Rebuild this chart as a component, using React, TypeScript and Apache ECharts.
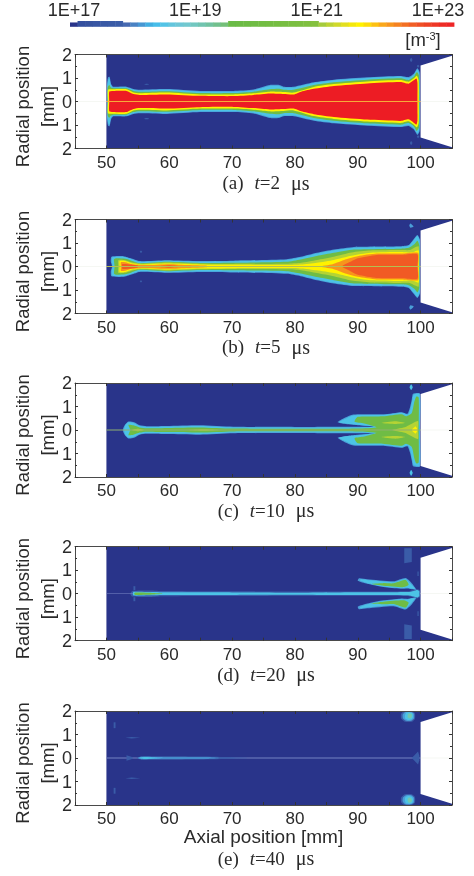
import React, { useEffect, useRef } from "react";
import * as echarts from "echarts";

type Pt = [number, number];

const CAPTION_TIMES = ["2", "5", "10", "20", "40"];
const CAPTION_LETTERS = ["a", "b", "c", "d", "e"];
const COLORBAR_LABEL_EXPONENTS = [17, 19, 21, 23];

const COLORBAR_CELLS = [
  "#29348a", "#34509f", "#36539f", "#3856a3", "#3959a5", "#3a5ba6", "#3b5da8", "#4669b1", "#4a82c3", "#4797d3",
  "#41aee1", "#47bde9", "#53c3e6", "#63c5dd", "#6dc6d6", "#72c8cf", "#72c7c0", "#71c4b0", "#70c2a0", "#71c08d",
  "#73bf78", "#6abb46", "#6cbb45", "#6ebc44", "#70bc44", "#72bd43", "#74bd43", "#76be42", "#78be42", "#7abf41",
  "#7cbf41", "#80c040", "#84c13f", "#a5cb3c", "#bcd233", "#d0d92a", "#e3df1f", "#f4e80c", "#fff200", "#fddc0a",
  "#fdc112", "#faa81b", "#f7951e", "#f58220", "#f36f22", "#f15e25", "#ef4f25", "#ee4224", "#ee3625", "#ee2c25",
  "#ee2526",
];
const COLORBAR_RAISED = [1, 2, 3, 4, 5, 6, 21, 22, 23, 24, 25, 26, 27, 28, 29, 30, 31, 32];

const NAVY = "#29348a";
const LEVEL_COLORS = [
  "#3a5ca8", "#4a9ed8", "#4cc3e6", "#72c8b0", "#6fbc45", "#b5d334", "#fff200", "#f7941d", "#f15a24", "#ed1c24",
];
const LINE_PALE = "#eef0ea", LINE_ORANGE = "#f7a93a", LINE_OLIVE = "#b5bf50", LINE_SAGE = "#8fb070", LINE_BLUE = "#7482c2";

const BACKGROUND: Pt[] = [[50, 0], [50, 2], [105, 2], [105, 0]];
const NOZZLE: Pt[] = [[100, 0], [100, 1.53], [105, 1.95], [105, 0]];

const axisLineLeft: Pt[] = [[45, 0], [45, 0.012], [50, 0.012], [50, 0]];
const axisLineRight: Pt[] = [[100, 0], [100, 0.012], [105, 0.012], [105, 0]];
const coreLine: Pt[] = [[50, 0], [50, 0.016], [100, 0.016], [100, 0]];
const coreLineD: Pt[] = [[50, 0], [50, 0.012], [54.2, 0.012], [54.2, 0]];

// (a) t = 2 us
const A_L1: Pt[] = [[50.1, 0], [50.1, 0.7], [50.25, 1.02], [50.5, 1.05], [50.75, 0.75], [51.1, 0.63], [53.2, 0.63], [54.3, 0.53], [55.3, 0.5], [59.6, 0.53], [64.9, 0.45], [70.2, 0.45], [73.4, 0.51], [76, 0.7], [77.5, 0.7], [78.2, 0.63], [79.8, 0.63], [83, 0.82], [86.2, 0.93], [91.5, 1.03], [96.8, 1.09], [98.1, 1.04], [98.9, 1.18], [99.5, 1.42], [99.85, 1.25], [99.9, 0]];
const A_L2: Pt[] = [[50.15, 0], [50.15, 0.65], [50.3, 0.95], [50.5, 0.98], [50.7, 0.7], [51, 0.6], [53.2, 0.6], [54.3, 0.5], [55.3, 0.47], [59.6, 0.5], [64.9, 0.42], [70.2, 0.42], [73.4, 0.48], [76, 0.66], [77.5, 0.66], [78.2, 0.6], [79.8, 0.6], [83, 0.79], [86.2, 0.9], [91.5, 1], [96.8, 1.06], [98.1, 1], [98.9, 1.13], [99.5, 1.36], [99.8, 1.2], [99.85, 0]];
const A_L4: Pt[] = [[50.2, 0], [50.2, 0.6], [50.45, 0.7], [50.7, 0.6], [51.2, 0.56], [53.2, 0.56], [54.3, 0.45], [55.3, 0.41], [59.6, 0.44], [64.9, 0.36], [70.2, 0.36], [73.4, 0.42], [76, 0.52], [77.5, 0.54], [78.2, 0.5], [79.8, 0.5], [83, 0.7], [86.2, 0.82], [91.5, 0.93], [96.8, 0.99], [98.1, 0.92], [98.9, 1.05], [99.4, 1.25], [99.75, 1.1], [99.8, 0]];
const A_L6: Pt[] = [[50.25, 0], [50.25, 0.5], [51, 0.52], [53.2, 0.52], [54.3, 0.38], [55.3, 0.35], [59.6, 0.38], [64.9, 0.3], [70.2, 0.3], [73.4, 0.35], [76, 0.42], [78.2, 0.4], [79.8, 0.38], [83, 0.62], [86.2, 0.74], [91.5, 0.85], [96.8, 0.91], [98.1, 0.84], [98.9, 0.98], [99.4, 1.1], [99.7, 0.9], [99.72, 0]];
const A_L9: Pt[] = [[50.45, 0], [50.45, 0.42], [51, 0.45], [53.2, 0.45], [54.3, 0.32], [55.3, 0.28], [59.6, 0.3], [64.9, 0.24], [70.2, 0.23], [73.4, 0.28], [76, 0.34], [78.2, 0.32], [79.8, 0.3], [81, 0.42], [83, 0.54], [86.2, 0.66], [91.5, 0.77], [96.8, 0.83], [98.1, 0.76], [98.9, 0.9], [99.35, 0.98], [99.5, 0.8], [99.5, 0]];
const A_DOT1: Pt[] = [[98.3, 1.77], [98.5, 1.86], [98.7, 1.77], [98.5, 1.68]];
const A_DOT2: Pt[] = [[99.4, 1.5], [99.6, 1.56], [99.8, 1.5], [99.6, 1.44]];
const A_DOT3: Pt[] = [[56, 0.73], [56.4, 0.76], [56.8, 0.73], [56.4, 0.7]];

// (b) t = 5 us
const B_L1: Pt[] = [[50.9, 0], [50.7, 0.2], [50.8, 0.42], [52.7, 0.44], [54, 0.34], [55.3, 0.23], [59.6, 0.27], [64.9, 0.23], [70.2, 0.25], [78.7, 0.31], [80.9, 0.41], [83.5, 0.58], [86.2, 0.72], [89.4, 0.83], [96.8, 0.86], [98.1, 0.91], [98.9, 1.16], [99.5, 1.34], [99.9, 1.14], [99.9, 0]];
const B_L2: Pt[] = [[51, 0], [50.85, 0.2], [50.95, 0.39], [52.7, 0.41], [54, 0.31], [55.3, 0.2], [59.6, 0.24], [64.9, 0.2], [70.2, 0.22], [78.7, 0.28], [80.9, 0.38], [83.5, 0.55], [86.2, 0.69], [89.4, 0.8], [96.8, 0.83], [98.1, 0.88], [98.9, 1.12], [99.5, 1.3], [99.85, 1.1], [99.85, 0]];
const B_L4: Pt[] = [[51.3, 0], [51.2, 0.3], [51.5, 0.35], [53, 0.33], [54, 0.25], [55.3, 0.14], [59.6, 0.2], [64.9, 0.15], [70.2, 0.16], [78.7, 0.2], [80.9, 0.3], [83.5, 0.45], [86.2, 0.58], [89.4, 0.72], [96.8, 0.76], [98.1, 0.8], [99, 0.95], [99.5, 1.1], [99.8, 0.9], [99.8, 0]];
const B_L5: Pt[] = [[51.9, 0], [51.9, 0.27], [53, 0.27], [54, 0.18], [55.5, 0.12], [59.6, 0.17], [64.9, 0.12], [70.2, 0.11], [78.7, 0.12], [81, 0.16], [83.5, 0.28], [86.2, 0.42], [89, 0.6], [92, 0.68], [96.8, 0.7], [98.3, 0.7], [99, 0.8], [99.7, 0.85], [99.75, 0]];
const B_L6: Pt[] = [[52.1, 0], [52.1, 0.23], [53, 0.23], [54, 0.14], [55.5, 0.09], [59.6, 0.13], [64.9, 0.09], [70.2, 0.07], [78.7, 0.06], [81, 0.08], [83.5, 0.16], [86.2, 0.28], [89, 0.46], [92, 0.59], [96.8, 0.62], [98.3, 0.6], [99, 0.63], [99.7, 0.68], [99.72, 0]];
const B_L7A: Pt[] = [[52.3, 0], [52.3, 0.18], [53, 0.18], [54, 0.1], [56, 0.06], [60, 0.1], [63, 0.06], [66, 0.03], [66, 0]];
const B_L7B: Pt[] = [[84, 0], [86, 0.1], [88, 0.3], [90, 0.44], [93, 0.55], [97, 0.55], [99.6, 0.58], [99.6, 0]];
const B_L8A: Pt[] = [[52.5, 0], [52.5, 0.1], [54, 0.08], [55, 0.04], [55, 0]];
const B_L8B: Pt[] = [[87.5, 0], [89, 0.22], [90, 0.35], [93, 0.49], [97, 0.5], [99.5, 0.52], [99.5, 0]];
const B_L8C: Pt[] = [[58, 0], [60, 0.05], [62, 0]];
const B_DOT1: Pt[] = [[55.3, 0.63], [55.5, 0.68], [55.7, 0.63], [55.5, 0.58]];
const B_DOT2: Pt[] = [[98.2, 1.75], [98.4, 1.83], [98.9, 1.7], [98.4, 1.65]];

// (c) t = 10 us
const C_L1: Pt[] = [[52.6, 0], [52.9, 0.2], [53.5, 0.36], [54.4, 0.33], [55.3, 0.2], [56.4, 0.16], [59.6, 0.17], [64.9, 0.2], [70.2, 0.14], [80, 0.13], [86.2, 0.14], [90, 0.14], [92.8, 0.15], [90, 0.2], [88.5, 0.24], [86.8, 0.33], [87.8, 0.5], [89.3, 0.66], [94.1, 0.67], [97, 0.76], [97.9, 0.69], [98.3, 0.95], [98.6, 1.3], [98.8, 1.54], [99.9, 1.55], [99.9, 0]];
const C_L2: Pt[] = [[52.8, 0], [53, 0.2], [53.5, 0.33], [54.3, 0.3], [55.3, 0.17], [56.4, 0.13], [59.6, 0.14], [64.9, 0.17], [70.2, 0.11], [80, 0.1], [86.2, 0.11], [90, 0.11], [92.6, 0.14], [90, 0.22], [88.5, 0.26], [87, 0.33], [88, 0.48], [89.4, 0.63], [94.1, 0.64], [97, 0.73], [98, 0.66], [98.4, 0.92], [98.7, 1.3], [98.9, 1.5], [99.85, 1.52], [99.85, 0]];
const C_L4: Pt[] = [[53.8, 0], [53.5, 0.22], [54.3, 0.2], [55.3, 0.11], [56.4, 0.07], [60, 0.09], [65, 0.11], [70, 0.06], [80, 0.05], [86, 0.05], [90, 0.06], [93, 0.12], [91, 0.28], [89.5, 0.35], [90, 0.56], [94, 0.58], [97, 0.67], [97.7, 0.58], [98.6, 0.72], [99, 1.2], [99.3, 1.42], [99.7, 1.38], [99.7, 0]];
const C_L5A: Pt[] = [[93.8, 0.3], [96, 0.37], [97.5, 0.3], [96, 0.26]];
const C_L5B: Pt[] = [[95.5, 0], [97.5, 0.12], [98.8, 0.3], [99.6, 0.38], [99.6, 0]];
const C_L5C: Pt[] = [[54, 0], [55, 0.05], [56, 0]];
const C_L5D: Pt[] = [[63, 0], [65.5, 0.035], [68, 0]];
const C_L6: Pt[] = [[98.6, 0], [99.2, 0.15], [99.5, 0]];
const C_DOT: Pt[] = [[98.25, 1.82], [98.5, 1.95], [98.75, 1.82], [98.5, 1.7]];

// (d) t = 20 us
const D_L0: Pt[] = [[53.8, 0], [54.1, 0.12], [57, 0.14], [59, 0.11], [70, 0.1], [85, 0.09], [98, 0.1], [98.8, 0.16], [99.4, 0.2], [99.9, 0.14], [99.9, 0]];
const D_L2: Pt[] = [[54.2, 0], [54.3, 0.08], [57, 0.07], [60, 0.06], [70, 0.055], [80, 0.04], [90, 0.06], [98, 0.07], [98.9, 0.12], [99.5, 0.16], [99.8, 0.1], [99.8, 0]];
const D_L4: Pt[] = [[54.4, 0], [54.6, 0.05], [57.5, 0.03], [59, 0]];
const D_PLUME_L1: Pt[] = [[90, 0.55], [90.2, 0.66], [91.5, 0.62], [95.7, 0.53], [97.6, 0.67], [98.5, 0.48], [99.3, 0.17], [98, 0.22], [96.8, 0.21], [94.1, 0.28], [91.5, 0.42]];
const D_PLUME_L2: Pt[] = [[90.3, 0.57], [90.5, 0.62], [92, 0.57], [95.7, 0.49], [97.6, 0.63], [98.4, 0.43], [99.1, 0.2], [97.8, 0.25], [96.8, 0.24], [94.1, 0.31], [91.5, 0.45]];
const D_PLUME_L4: Pt[] = [[92, 0.42], [94, 0.45], [95.7, 0.44], [97.6, 0.59], [98.1, 0.38], [97.3, 0.28], [94.1, 0.34]];
const D_BOX_TOP: Pt[] = [[97.4, 1.3], [97.4, 1.93], [98.6, 1.93], [98.6, 1.35]];
const D_TICK: Pt[] = [[99.5, 0.75], [99.7, 0.75], [99.7, 0.95], [99.5, 0.95]];
const D_HEAD: Pt[] = [[54.3, 0.15], [54.6, 0.15], [54.6, 0.32], [54.3, 0.32]];

// (e) t = 40 us
const E_HEAD: Pt[] = [[53.2, 0], [53.2, 0.12], [54.2, 0.03], [54.2, 0]];
const E_L0: Pt[] = [[54.8, 0], [55.5, 0.06], [58, 0.07], [65, 0.06], [70, 0.03], [72.5, 0]];
const E_L1: Pt[] = [[55, 0], [55.5, 0.05], [57.5, 0.045], [60, 0.035], [66, 0.03], [68, 0]];
const E_L2: Pt[] = [[55.3, 0], [56, 0.04], [57, 0.03], [58.2, 0]];
const E_TAIL: Pt[] = [[98.6, 0], [99.6, 0.28], [99.8, 0.1], [99.8, 0]];
const E_MARK1: Pt[] = [[51.15, 1.27], [51.15, 1.52], [51.45, 1.52], [51.45, 1.27]];
const E_MARK2: Pt[] = [[53, 0.86], [54, 0.89], [55.4, 0.86], [54, 0.83]];
const E_BLOB_L0: Pt[] = [[96.9, 1.68], [97.5, 1.54], [98.6, 1.54], [99.1, 1.66], [99.1, 1.9], [98.6, 1.99], [97.4, 1.99], [96.9, 1.88]];
const E_BLOB_L1: Pt[] = [[97.2, 1.68], [97.7, 1.58], [98.5, 1.58], [98.95, 1.68], [98.95, 1.88], [98.5, 1.97], [97.6, 1.97], [97.15, 1.85]];
const E_BLOB_L2: Pt[] = [[97.55, 1.68], [98, 1.62], [98.6, 1.65], [98.8, 1.75], [98.7, 1.9], [98.2, 1.95], [97.7, 1.93], [97.5, 1.8]];
const E_BLOB_L3: Pt[] = [[97.95, 1.72], [98.3, 1.68], [98.6, 1.75], [98.6, 1.85], [98.3, 1.9], [98, 1.87]];

type Shape = [string, Pt[], boolean?];
const c = (l: number) => LEVEL_COLORS[l];

const COMMON: Shape[] = [[NAVY, BACKGROUND, true], ["#ffffff", NOZZLE, true]];
const PANELS: Shape[][] = [
  [
    ...COMMON,
    [c(1), A_L1], [c(2), A_L2], [c(4), A_L4], [c(6), A_L6], [c(9), A_L9],
    [c(0), A_DOT1], [c(0), A_DOT2], [c(0), A_DOT3],
    [LINE_ORANGE, coreLine, true], [LINE_PALE, axisLineLeft, true], [LINE_PALE, axisLineRight, true],
  ],
  [
    ...COMMON,
    [c(1), B_L1], [c(2), B_L2], [c(4), B_L4], [c(5), B_L5], [c(6), B_L6], [c(7), B_L7A], [c(7), B_L7B],
    [c(8), B_L8A], [c(8), B_L8B], [c(8), B_L8C],
    [c(0), B_DOT1], [c(1), B_DOT2],
    [LINE_OLIVE, coreLine, true], [LINE_PALE, axisLineLeft, true], [LINE_PALE, axisLineRight, true],
  ],
  [
    ...COMMON,
    [c(1), C_L1], [c(2), C_L2], [c(4), C_L4], [c(5), C_L5A], [c(5), C_L5B], [c(5), C_L5C], [c(5), C_L5D], [c(6), C_L6],
    [c(2), C_DOT],
    [LINE_SAGE, coreLine, true], [LINE_PALE, axisLineRight, true],
  ],
  [
    ...COMMON,
    [c(0), D_BOX_TOP, true], [c(0), D_TICK, true], [c(0), D_HEAD, true], [c(0), D_L0], [c(2), D_L2], [c(4), D_L4],
    [c(1), D_PLUME_L1], [c(2), D_PLUME_L2], [c(4), D_PLUME_L4],
    [LINE_BLUE, coreLineD, true], [LINE_PALE, axisLineRight, true],
  ],
  [
    ...COMMON,
    [LINE_BLUE, coreLine, true], [c(0), E_HEAD, true], [c(0), E_L0], [c(1), E_L1], [c(2), E_L2], [c(0), E_TAIL, true],
    [c(0), E_MARK1, true], [c(0), E_MARK2, true],
    [c(0), E_BLOB_L0], [c(1), E_BLOB_L1], [c(2), E_BLOB_L2], [c(3), E_BLOB_L3],
    [LINE_PALE, axisLineRight, true],
  ],
];

const GRID_TOPS = [54.5, 219.5, 383, 546.7, 711];
const GRID_H = 94;
const CAPTION_Y = [182.5, 346.7, 510, 674, 858];
const TXT = "#2a2a2a";
const SANS = "'Liberation Sans', Arial, sans-serif";
const SERIF = "'Liberation Serif', 'Times New Roman', serif";

export default function App() {
  const ref = useRef<HTMLDivElement>(null);
  useEffect(() => {
    const chart = echarts.init(ref.current!, undefined, { renderer: "svg" });
    const grid: any[] = [];
    const xAxis: any[] = [];
    const yAxis: any[] = [];
    const series: any[] = [];
    const title: any[] = [];
    const axisLine = { show: true, onZero: false, lineStyle: { color: "#4a4a4a", width: 1 } };
    const tick = { show: true, inside: true, length: 3, lineStyle: { color: "#333", width: 1 } };
    const minor = { show: true, splitNumber: 2, length: 2, lineStyle: { color: "#333", width: 1 } };

    PANELS.forEach((shapes, i) => {
      grid.push({ left: 75, width: 377, top: GRID_TOPS[i], height: GRID_H, backgroundColor: "#fff", show: true, borderWidth: 0, outerBoundsMode: "none" });
      const base = { gridIndex: i, type: "value", z: 5, splitLine: { show: false } };
      xAxis.push({
        ...base, position: "bottom", min: 45, max: 105, interval: 5, axisLine, axisTick: tick,
        axisLabel: {
          margin: 5, fontFamily: SANS, fontSize: 17, color: TXT,
          formatter: (v: number) => (v % 10 === 0 && v >= 50 ? String(v) : ""),
        },
        ...(i === 4
          ? { name: "Axial position [mm]", nameLocation: "middle", nameGap: 22, nameMoveOverlap: false, nameTextStyle: { fontFamily: SANS, fontSize: 19, color: TXT } }
          : {}),
      });
      xAxis.push({ ...base, position: "top", min: 45, max: 105, interval: 5, axisLine, axisTick: tick, axisLabel: { show: false } });
      yAxis.push({
        ...base, position: "left", min: -2, max: 2, interval: 1, axisLine, axisTick: tick, minorTick: minor,
        axisLabel: { margin: 3, fontFamily: SANS, fontSize: 18, color: TXT, formatter: (v: number) => String(Math.abs(v)) },
        name: "Radial position\n[mm]", nameLocation: "middle", nameGap: 15, nameRotate: 90, nameMoveOverlap: false,
        nameTextStyle: { fontFamily: SANS, fontSize: 18.5, color: TXT, lineHeight: 25, padding: [0, 10, 0, 0] },
      });
      yAxis.push({ ...base, position: "right", min: -2, max: 2, interval: 1, axisLine, axisTick: tick, minorTick: minor, axisLabel: { show: false } });
      series.push({
        type: "custom",
        coordinateSystem: "cartesian2d",
        xAxisIndex: i * 2,
        yAxisIndex: i * 2,
        silent: true,
        clip: false,
        data: shapes.map((_, k) => [k]),
        renderItem: (params: any, api: any) => {
          const [color, pts, sharp] = shapes[params.dataIndex];
          const smooth = sharp ? 0 : 0.2;
          const toPx = (p: Pt, sign: number) => api.coord([p[0], sign * p[1]]);
          const poly = (points: number[][]) => ({ type: "polygon", shape: { points, smooth }, style: { fill: color } });
          const closed = pts[0][1] === 0 && pts[pts.length - 1][1] === 0;
          if (closed) {
            const upper = pts.map((p) => toPx(p, 1));
            const lower = pts.slice(1, -1).reverse().map((p) => toPx(p, -1));
            return poly([...upper, ...lower]);
          }
          return {
            type: "group",
            children: [poly(pts.map((p) => toPx(p, 1))), poly(pts.map((p) => toPx(p, -1)))],
          };
        },
      });
      title.push({
        left: 261, top: CAPTION_Y[i] - 16, textAlign: "center",
        text: `{n|(${CAPTION_LETTERS[i]})}{g|\u00a0\u00a0}{i|t}{n|=${CAPTION_TIMES[i]}}{g|\u00a0\u00a0}{u|\u03bcs}`,
        textStyle: {
          rich: {
            n: { fontFamily: SERIF, fontSize: 19, fontWeight: "normal", color: TXT },
            g: { fontFamily: SERIF, fontSize: 22, fontWeight: "normal", color: TXT },
            u: { fontFamily: SERIF, fontSize: 20, fontWeight: "normal", color: TXT },
            i: { fontFamily: SERIF, fontSize: 19, fontWeight: "normal", fontStyle: "italic", color: TXT },
          },
        },
      });
    });

    // colour bar: its own axis, running from 1E+17 to 1E+23
    const barIndex = grid.length;
    grid.push({ left: 74, width: 364, top: 21, height: 5.8, outerBoundsMode: "none" });
    xAxis.push({
      gridIndex: barIndex, type: "value", position: "top", min: 17, max: 23, interval: 1,
      axisLine: { show: false }, axisTick: { show: false }, splitLine: { show: false },
      axisLabel: {
        margin: 2, fontFamily: SANS, fontSize: 18, color: TXT, hideOverlap: false,
        formatter: (v: number) => (COLORBAR_LABEL_EXPONENTS.includes(v) ? `1E+${v}` : ""),
      },
    });
    yAxis.push({ gridIndex: barIndex, type: "value", min: 0, max: 1, show: false });
    const barStep = (384 / 51) * (6 / 364);
    const barStart = 17 - (4 * 6) / 364;
    series.push({
      type: "custom",
      coordinateSystem: "cartesian2d",
      xAxisIndex: xAxis.length - 1,
      yAxisIndex: yAxis.length - 1,
      silent: true,
      clip: false,
      data: COLORBAR_CELLS.map((_, k) => [barStart + k * barStep, COLORBAR_RAISED.includes(k) ? 1 : 0.75]),
      renderItem: (params: any, api: any) => {
        const k = params.dataIndex;
        const tl = api.coord([api.value(0), api.value(1)]);
        const br = api.coord([api.value(0) + barStep, 0]);
        return {
          type: "rect",
          shape: { x: tl[0], y: tl[1], width: br[0] - tl[0] + 0.4, height: br[1] - tl[1] },
          style: { fill: COLORBAR_CELLS[k] },
        };
      },
    });
    title.push({
      left: 418, top: 25, textAlign: "center",
      text: "{n|[m}{s|-3}{n|]}",
      textStyle: {
        rich: {
          n: { fontFamily: SANS, fontSize: 18.5, fontWeight: "normal", color: TXT },
          s: { fontFamily: SANS, fontSize: 11, fontWeight: "normal", color: TXT, verticalAlign: "top", padding: [0, 0, 8, 0] },
        },
      },
    });

    chart.setOption({ animation: false, backgroundColor: "#fff", grid, xAxis, yAxis, series, title });
    return () => chart.dispose();
  }, []);
  return (
    <div
      ref={ref}
      style={{ position: "absolute", left: 0, top: 0, width: 474, height: 876, background: "#fff", filter: "blur(0.5px)" }}
    />
  );
}
